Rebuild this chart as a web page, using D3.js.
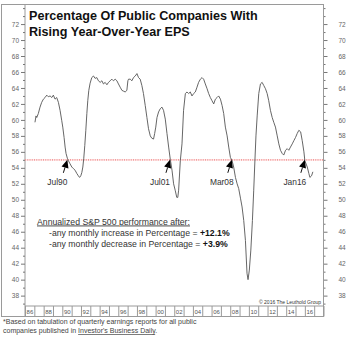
<!DOCTYPE html>
<html><head><meta charset="utf-8">
<script src="https://cdn.jsdelivr.net/npm/d3@7"></script>
<style>body{margin:0;background:#fff}svg{display:block}text{font-family:"Liberation Sans",Arial,sans-serif}</style>
</head><body><svg id="c" width="350" height="345"></svg>
<script>
const dates = [1987.07,1987.18,1987.26,1987.43,1987.61,1987.79,1987.97,1988.15,1988.33,1988.50,1988.69,1988.87,1989.04,1989.22,1989.40,1989.58,1989.76,1989.94,1990.05,1990.19,1990.30,1990.40,1990.54,1990.65,1990.83,1991.02,1991.19,1991.37,1991.55,1991.72,1991.85,1991.98,1992.09,1992.20,1992.30,1992.41,1992.52,1992.63,1992.73,1992.84,1992.98,1993.16,1993.34,1993.52,1993.70,1993.87,1994.06,1994.24,1994.41,1994.59,1994.78,1994.95,1995.13,1995.31,1995.48,1995.67,1995.85,1996.02,1996.20,1996.39,1996.56,1996.74,1996.92,1997.03,1997.10,1997.28,1997.46,1997.63,1997.82,1998.00,1998.17,1998.35,1998.53,1998.70,1998.89,1999.07,1999.24,1999.43,1999.60,1999.78,1999.90,2000.02,2000.15,2000.32,2000.50,2000.68,2000.85,2001.04,2001.22,2001.40,2001.57,2001.76,2001.93,2002.10,2002.27,2002.38,2002.47,2002.65,2002.83,2003.00,2003.19,2003.37,2003.54,2003.72,2003.90,2004.08,2004.26,2004.44,2004.61,2004.80,2004.98,2005.15,2005.33,2005.52,2005.69,2005.87,2006.05,2006.23,2006.41,2006.59,2006.76,2006.95,2007.13,2007.30,2007.48,2007.67,2007.84,2008.02,2008.20,2008.37,2008.56,2008.74,2008.91,2009.10,2009.27,2009.45,2009.63,2009.80,2009.91,2010.05,2010.21,2010.38,2010.52,2010.65,2010.76,2010.89,2011.06,2011.24,2011.42,2011.60,2011.78,2011.96,2012.13,2012.31,2012.50,2012.67,2012.85,2013.04,2013.21,2013.39,2013.57,2013.74,2013.93,2014.11,2014.28,2014.46,2014.65,2014.82,2015.00,2015.18,2015.36,2015.55,2015.72,2015.90,2016.00,2016.26,2016.43,2016.54,2016.72,2016.86];
const values = [59.7,60.5,60.3,60.8,61.6,62.2,62.6,62.8,63.1,62.9,63.0,62.8,63.1,62.6,62.8,62.2,61.2,59.9,59.1,57.8,56.6,55.8,55.2,54.9,54.5,54.1,53.9,53.7,53.3,53.0,52.8,53.0,53.4,54.1,55.2,56.8,58.7,60.8,62.4,63.7,64.6,65.3,65.5,65.2,65.3,64.9,64.7,64.9,64.5,64.7,64.4,64.7,64.9,65.1,64.9,65.1,64.9,64.5,64.1,63.7,63.6,63.5,63.7,64.9,65.1,65.1,64.9,65.3,65.5,65.8,65.3,65.1,64.3,63.3,61.8,60.3,58.9,58.0,57.7,57.6,58.3,59.1,60.3,61.0,61.4,61.6,61.2,60.1,58.3,56.6,55.1,53.7,52.0,51.2,50.3,50.3,51.2,54.9,57.0,61.2,63.3,63.5,63.3,63.5,63.0,63.3,63.5,64.1,64.7,65.1,65.3,65.1,64.5,63.9,63.3,62.8,62.4,62.0,62.6,62.8,63.0,62.6,61.8,60.8,59.1,58.0,56.6,55.3,54.9,54.1,52.8,52.0,51.4,50.2,49.1,47.4,44.9,40.8,40.0,41.2,43.7,47.4,51.2,55.0,58.0,60.5,63.3,64.5,64.7,64.3,63.9,63.3,62.4,61.2,60.3,59.7,59.1,58.0,57.0,56.2,55.8,55.6,56.2,56.4,56.2,56.6,57.0,57.4,57.8,58.3,58.7,58.5,57.4,56.0,54.9,54.1,53.3,52.8,53.0,53.5];
const yMajorTicks = [38,40,42,44,46,48,50,52,54,56,58,60,62,64,66,68,70,72];
const yMinorTicks = [37,39,41,43,45,47,49,51,53,55,57,59,61,63,65,67,69,71,73,74];
const yearTicks = [1986,1987,1988,1989,1990,1991,1992,1993,1994,1995,1996,1997,1998,1999,2000,2001,2002,2003,2004,2005,2006,2007,2008,2009,2010,2011,2012,2013,2014,2015,2016,2017,2018];
const yearLabelYears = [1986,1988,1990,1992,1994,1996,1998,2000,2002,2004,2006,2008,2010,2012,2014,2016];
const yearLabels = ["86","88","90","92","94","96","98","00","02","04","06","08","10","12","14","16"];
const threshold = 55;
const signalLabels = ["Jul90","Jul01","Mar08","Jan16"];
const signalDates = [1990.54,2001.54,2008.17,2016.0];
const titleLines = ["Percentage Of Public Companies With","Rising Year-Over-Year EPS"];

const svg = d3.select("#c");
const L = 25, R = 323.5, T = 4.5, B = 306;
const x = d3.scaleLinear().domain([1986, 2018]).range([L, R]);
const y = d3.scaleLinear().domain([36.7, 74.45]).range([B, T]);

// outer frame
svg.append("rect").attr("x",1.5).attr("y",T).attr("width",R-1.5).attr("height",316.5-T)
  .attr("fill","none").attr("stroke","#9a9a9a").attr("stroke-width",1);
svg.append("line").attr("x1",L).attr("x2",L).attr("y1",T).attr("y2",316.5).attr("stroke","#9a9a9a");
svg.append("line").attr("x1",L).attr("x2",R).attr("y1",B).attr("y2",B).attr("stroke","#9a9a9a");

function styleAxis(g){ g.select(".domain").remove(); g.selectAll(".tick line").attr("stroke","#777"); g.selectAll("text").attr("fill","#666").style("font-size","6.5px"); }

svg.append("g").attr("transform",`translate(${L},0)`)
  .call(d3.axisLeft(y).tickValues(yMajorTicks).tickSize(4).tickPadding(2).tickFormat(d3.format("d"))).call(styleAxis);
svg.append("g").attr("transform",`translate(${L},0)`)
  .call(d3.axisLeft(y).tickValues(yMinorTicks).tickSize(2).tickFormat("")).call(styleAxis);
svg.append("g").attr("transform",`translate(${R},0)`)
  .call(d3.axisRight(y).tickValues(yMajorTicks).tickSize(4).tickPadding(11).tickFormat(d3.format("d"))).call(styleAxis);
svg.append("g").attr("transform",`translate(${R},0)`)
  .call(d3.axisRight(y).tickValues(yMinorTicks).tickSize(2).tickFormat("")).call(styleAxis);
svg.append("line").attr("x1",R).attr("x2",R).attr("y1",T).attr("y2",316.5).attr("stroke","#9a9a9a");

// year cells
svg.append("g").attr("transform",`translate(0,${B})`)
  .call(d3.axisBottom(x).tickValues(yearTicks).tickSize(10.5).tickFormat(""))
  .call(g=>{g.select(".domain").remove(); g.selectAll(".tick line").attr("stroke","#9a9a9a");});
svg.append("g").selectAll("text").data(yearLabelYears).join("text")
  .attr("x",d=>x(d)+1.6).attr("y",B+7.8).attr("fill","#555").style("font-size","6px")
  .text((d,i)=>yearLabels[i]);

// threshold line
svg.append("line").attr("x1",L).attr("x2",R).attr("y1",y(threshold)).attr("y2",y(threshold))
  .attr("stroke","#f39a9a").attr("stroke-width",1.6).attr("stroke-dasharray","1,0.8");

// series line
svg.append("path").datum(dates.map((d,i)=>[d,values[i]]))
  .attr("fill","none").attr("stroke","#555").attr("stroke-width",0.9)
  .attr("d",d3.line().x(d=>x(d[0])).y(d=>y(d[1])));

// signal arrows
const sg = svg.append("g");
signalDates.forEach((d,i)=>{
  const tx = x(d), ty = y(threshold);
  const sx = tx-4, sy = ty+13;
  const ang = Math.atan2(ty-sy, tx-sx);
  const hl = 8, hw = 3.6;
  const bx = tx - hl*Math.cos(ang), by = ty - hl*Math.sin(ang);
  sg.append("line").attr("x1",sx).attr("y1",sy).attr("x2",bx).attr("y2",by).attr("stroke","#111").attr("stroke-width",1);
  const px = -Math.sin(ang)*hw, py = Math.cos(ang)*hw;
  sg.append("path").attr("d",`M${tx},${ty}L${bx+px},${by+py}L${bx-px},${by-py}Z`).attr("fill","#000");
  sg.append("text").attr("x",tx-10).attr("y",ty+25).attr("text-anchor","middle")
    .attr("fill","#333").style("font-size","8.4px").text(signalLabels[i]);
});

// title
svg.append("g").selectAll("text").data(titleLines).join("text")
  .attr("x",29).attr("y",(d,i)=>19.5+i*16.5).attr("fill","#111")
  .style("font-size","12.6px").style("font-weight","bold").text(d=>d);

// performance box
const tb = svg.append("g").attr("fill","#333").style("font-size","8.7px");
tb.append("text").attr("x",37).attr("y",224.5).style("text-decoration","underline").text("Annualized S&P 500 performance after:");
const t2 = tb.append("text").attr("x",49).attr("y",235.5);
t2.append("tspan").text("-any monthly increase in Percentage = ");
t2.append("tspan").style("font-weight","bold").attr("fill","#111").text("+12.1%");
const t3 = tb.append("text").attr("x",49).attr("y",247);
t3.append("tspan").text("-any monthly decrease in Percentage = ");
t3.append("tspan").style("font-weight","bold").attr("fill","#111").text("+3.9%");

// copyright
svg.append("text").attr("x",321).attr("y",303.5).attr("text-anchor","end").attr("fill","#333")
  .style("font-size","5px").text("\u00a9 2016 The Leuthold Group");

// footnote
const fn = svg.append("g").attr("fill","#444").style("font-size","7px");
fn.append("text").attr("x",3).attr("y",324).text("*Based on tabulation of quarterly earnings reports for all public");
const f2 = fn.append("text").attr("x",3).attr("y",333);
f2.append("tspan").text("companies published in ");
f2.append("tspan").style("text-decoration","underline").text("Investor's Business Daily");
f2.append("tspan").text(".");
</script></body></html>
